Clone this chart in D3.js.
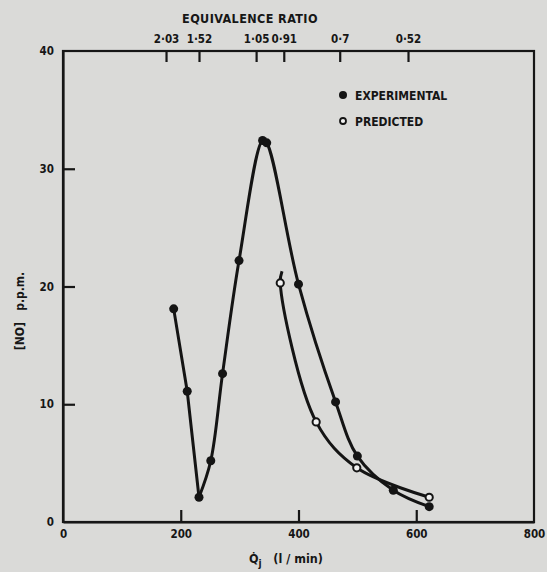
<!DOCTYPE html>
<html>
<head>
<meta charset="utf-8">
<script src="https://cdn.jsdelivr.net/npm/d3@7"></script>
<style>
  body { margin: 0; background: #dadad8; }
  svg { display: block; }
  text { font-family: "DejaVu Sans Condensed", "DejaVu Sans", sans-serif; font-weight: bold; fill: #161616; }
  .domain, .tick line { stroke: #161616; stroke-width: 2.2; }
</style>
</head>
<body>
<div id="wrapper"></div>
<script>
// Q_j (l/min) vs [NO] ppm
experimentalQ  = [188, 211, 231, 251, 271, 299, 339, 346, 400, 463, 500, 561, 622] ;
experimentalNO = [18.1, 11.1, 2.1, 5.2, 12.6, 22.2, 32.4, 32.2, 20.2, 10.2, 5.6, 2.7, 1.3] ;

predictedQ  = [369, 430, 499, 622] ;
predictedNO = [20.3, 8.5, 4.6, 2.1] ;
// the hand drawn predicted curve starts a little above its first point
predictedLeadQ = 372 ;
predictedLeadNO = 21.3 ;

xTicks = [0, 200, 400, 600, 800] ;
yTicks = [0, 10, 20, 30, 40] ;

// equivalence ratio labels on the top axis and the flow they sit over
eqRatioLabels = ["2·03", "1·52", "1·05", "0·91", "0·7", "0·52"] ;
eqRatioQ      = [175, 231, 328, 375, 470, 586] ;

legendLabels = ["EXPERIMENTAL", "PREDICTED"] ;

function drawChart() {
  let dimensions = {
    width: 547,
    height: 572,
    margin: { top: 51, right: 13, bottom: 50, left: 63 }
  } ;
  dimensions.boundedWidth = dimensions.width - dimensions.margin.left - dimensions.margin.right ;
  dimensions.boundedHeight = dimensions.height - dimensions.margin.top - dimensions.margin.bottom ;

  const svg = d3.select("#wrapper").append("svg")
    .attr("width", dimensions.width)
    .attr("height", dimensions.height) ;

  const bounds = svg.append("g")
    .attr("transform", `translate(${dimensions.margin.left}, ${dimensions.margin.top})`) ;

  const xScale = d3.scaleLinear()
    .domain([0, 800])
    .range([0, dimensions.boundedWidth]) ;
  const yScale = d3.scaleLinear()
    .domain([0, 40])
    .range([dimensions.boundedHeight, 0]) ;

  // frame
  bounds.append("rect")
    .attr("width", dimensions.boundedWidth)
    .attr("height", dimensions.boundedHeight)
    .attr("fill", "none")
    .attr("stroke", "#161616")
    .attr("stroke-width", 2.2) ;

  // bottom axis, ticks pointing in
  const xAxis = bounds.append("g")
    .attr("transform", `translate(0, ${dimensions.boundedHeight})`)
    .call(d3.axisBottom(xScale).tickValues(xTicks).tickSizeInner(-12).tickSizeOuter(0).tickPadding(8)) ;
  xAxis.selectAll(".tick").filter((d) => d == 0 || d == 800).select("line").remove() ;
  xAxis.selectAll("text").style("font-size", "11.5px").style("font-family", null) ;

  // left axis
  const yAxis = bounds.append("g")
    .call(d3.axisLeft(yScale).tickValues(yTicks).tickSizeInner(-12).tickSizeOuter(0).tickPadding(9)) ;
  yAxis.selectAll(".tick").filter((d) => d == 0 || d == 40).select("line").remove() ;
  yAxis.selectAll("text").style("font-size", "11.5px").style("font-family", null) ;

  // top axis: equivalence ratio
  const topAxis = bounds.append("g")
    .call(d3.axisTop(xScale)
      .tickValues(eqRatioQ)
      .tickFormat((d, i) => eqRatioLabels[i])
      .tickSizeInner(-11).tickSizeOuter(0).tickPadding(8)) ;
  topAxis.selectAll("text").style("font-size", "11.5px").style("font-family", null) ;
  topAxis.select(".domain").remove() ;

  svg.append("text")
    .attr("x", 250)
    .attr("y", 23)
    .attr("text-anchor", "middle")
    .style("font-size", "12.5px")
    .style("letter-spacing", "0.4px")
    .text("EQUIVALENCE  RATIO") ;

  // x title: Q dot, subscript j
  const xTitle = svg.append("text")
    .attr("x", 286)
    .attr("y", 563)
    .attr("text-anchor", "middle")
    .style("font-size", "12.5px") ;
  xTitle.append("tspan").text("Q\u0307") ;
  xTitle.append("tspan").attr("dy", 4).style("font-size", "10px").text("j") ;
  xTitle.append("tspan").attr("dy", -4).text("   (l / min)").attr("xml:space", "preserve") ;

  // y title
  svg.append("text")
    .attr("transform", "translate(24, 311) rotate(-90)")
    .attr("text-anchor", "middle")
    .style("font-size", "12px")
    .attr("xml:space", "preserve")
    .text("[NO]   p.p.m.") ;

  const experimental = experimentalQ.map((q, i) => [q, experimentalNO[i]]) ;
  const predicted = predictedQ.map((q, i) => [q, predictedNO[i]]) ;
  const predictedLine = [[predictedLeadQ, predictedLeadNO]].concat(predicted) ;

  const lineGenerator = d3.line()
    .x((d) => xScale(d[0]))
    .y((d) => yScale(d[1]))
    .curve(d3.curveCatmullRom.alpha(0.5)) ;
  const straightLine = d3.line()
    .x((d) => xScale(d[0]))
    .y((d) => yScale(d[1])) ;

  // the experimental curve has a sharp V at its first local minimum: the
  // falling leg is near straight, the rest is a smooth curve
  const vIdx = experimentalNO.findIndex((v, i) =>
    i > 0 && i < experimentalNO.length - 1 && v < experimentalNO[i - 1] && v < experimentalNO[i + 1]) ;
  const fallingLeg = experimental.slice(0, vIdx + 1) ;
  const risingRest = experimental.slice(vIdx) ;

  bounds.append("path")
    .attr("d", straightLine(fallingLeg))
    .attr("fill", "none")
    .attr("stroke", "#141414")
    .attr("stroke-width", 3)
    .attr("stroke-linejoin", "round")
    .attr("stroke-linecap", "round") ;

  bounds.append("path")
    .attr("d", lineGenerator(risingRest))
    .attr("fill", "none")
    .attr("stroke", "#141414")
    .attr("stroke-width", 3)
    .attr("stroke-linecap", "round") ;

  bounds.append("path")
    .attr("d", lineGenerator(predictedLine))
    .attr("fill", "none")
    .attr("stroke", "#141414")
    .attr("stroke-width", 3) ;

  bounds.selectAll("circle.exp")
    .data(experimental)
    .enter().append("circle")
      .attr("class", "exp")
      .attr("cx", (d) => xScale(d[0]))
      .attr("cy", (d) => yScale(d[1]))
      .attr("r", 4.5)
      .attr("fill", "#141414") ;

  bounds.selectAll("circle.pred")
    .data(predicted)
    .enter().append("circle")
      .attr("class", "pred")
      .attr("cx", (d) => xScale(d[0]))
      .attr("cy", (d) => yScale(d[1]))
      .attr("r", 3.6)
      .attr("fill", "#f2f2f2")
      .attr("stroke", "#141414")
      .attr("stroke-width", 2) ;

  // legend
  const legend = svg.append("g").attr("transform", "translate(343, 95)") ;
  legendLabels.forEach((label, i) => {
    legend.append("circle")
      .attr("cx", 0)
      .attr("cy", i * 26)
      .attr("r", i == 0 ? 4 : 3)
      .attr("fill", i == 0 ? "#141414" : "#f2f2f2")
      .attr("stroke", "#141414")
      .attr("stroke-width", i == 0 ? 0 : 1.8) ;
    legend.append("text")
      .attr("x", 12)
      .attr("y", i * 26 + 4.5)
      .style("font-size", "12px")
      .text(label) ;
  }) ;
}

drawChart() ;
</script>
</body>
</html>
